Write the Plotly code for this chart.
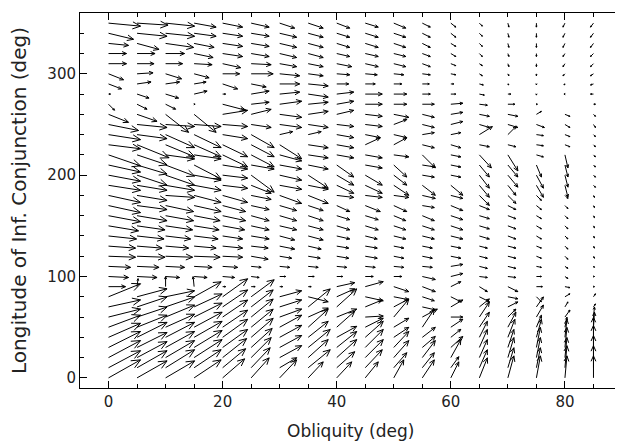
import math
import plotly.graph_objects as go

# Grid: obliquity columns and longitude rows (rows listed top -> bottom)
obliquity = [0, 5, 10, 15, 20, 25, 30, 35, 40, 45, 50, 55, 60, 65, 70, 75, 80, 85]
longitude = [350, 340, 330, 320, 310, 300, 290, 280, 270, 260, 250, 240, 230, 220,
             210, 200, 190, 180, 170, 160, 150, 140, 130, 120, 110, 100, 90, 80,
             70, 60, 50, 40, 30, 20, 10, 0]

# Vector components (arbitrary units), one row per longitude
U = [
 [32, 31, 29, 22, 20, 18, 15, 15, 13, 13, 12, 8, 5, 3, 1, 0, -2, -3],
 [25, 30, 29, 22, 20, 18, 17, 15, 13, 13, 12, 8, 5, 3, 1, 0, -2, -3],
 [20, 22, 28, 20, 20, 18, 17, 15, 13, 13, 12, 8, 5, 3, 1, 0, -2, -3],
 [18, 18, 19, 19, 20, 18, 17, 15, 13, 13, 12, 8, 5, 3, 1, 0, -2, -3],
 [18, 17, 17, 18, 18, 20, 17, 15, 15, 13, 12, 8, 5, 3, 1, 0, -2, -3],
 [15, 16, 16, 15, 17, 22, 20, 15, 13, 12, 10, 8, 5, 3, 1, 0, -2, -3],
 [13, 14, 14, 12, 15, 15, 20, 20, 12, 10, 8, 7, 3, 4, 1, 0, -1, -3],
 [2, 12, 13, 13, 3, 18, 20, 20, 17, 17, 13, 8, 5, 5, 3, 0, -1, -3],
 [6, 10, 10, 1, 23, 18, 22, 20, 17, 17, 13, 12, 12, 8, 7, 1, 0, 2],
 [20, 20, 23, 22, 25, 20, 22, 20, 17, 17, 15, 12, 12, 10, 10, 5, 5, 2],
 [30, 30, 29, 27, 25, 20, 22, 20, 17, 17, 13, 12, 12, 10, 10, 8, 5, 2],
 [32, 30, 29, 27, 25, 23, 13, 13, 17, 15, 13, 12, 10, 13, 8, 7, 5, 2],
 [32, 32, 29, 27, 25, 23, 22, 20, 17, 15, 13, 12, 10, 10, 8, 7, 5, 2],
 [32, 30, 29, 27, 25, 23, 22, 20, 17, 17, 15, 13, 10, 12, 10, 7, 3, 2],
 [32, 30, 29, 27, 25, 23, 22, 20, 17, 17, 13, 13, 10, 10, 10, 5, 3, 2],
 [32, 30, 29, 27, 25, 23, 22, 20, 17, 17, 13, 12, 10, 10, 10, 7, 3, 2],
 [32, 30, 29, 27, 25, 20, 22, 20, 17, 17, 15, 13, 12, 10, 8, 7, 3, 2],
 [32, 30, 29, 27, 25, 20, 22, 20, 17, 17, 15, 13, 12, 10, 8, 5, 3, 1],
 [32, 30, 28, 27, 23, 18, 17, 15, 13, 15, 13, 12, 12, 10, 8, 5, 3, 1],
 [32, 30, 28, 26, 23, 18, 17, 15, 13, 13, 12, 12, 12, 10, 8, 5, 3, 1],
 [30, 28, 27, 25, 22, 18, 17, 15, 13, 13, 12, 12, 12, 10, 8, 5, 3, 1],
 [28, 27, 25, 24, 20, 18, 15, 15, 13, 12, 12, 12, 12, 10, 8, 5, 3, 1],
 [27, 25, 23, 22, 20, 17, 15, 13, 12, 12, 10, 10, 10, 8, 8, 5, 3, 1],
 [27, 28, 27, 26, 20, 17, 12, 12, 12, 12, 10, 10, 10, 8, 8, 5, 3, 1],
 [22, 22, 19, 18, 15, 10, 10, 10, 10, 10, 10, 10, 12, 8, 8, 5, 3, 1],
 [20, 20, 14, 13, 12, 8, 6, 6, 6, 8, 8, 13, 12, 8, 8, 5, 3, 1],
 [17, 1, 0, -1, 3, 4, 3, 3, 18, 18, 15, 13, 10, 8, 10, 6, 5, 1],
 [32, 30, 29, 27, 25, 23, 22, 20, 18, 18, 15, 12, 10, 10, 10, 5, 5, 2],
 [32, 30, 29, 28, 25, 22, 22, 22, 20, 17, 15, 13, 12, 10, 10, 7, 3, 2],
 [32, 30, 29, 28, 25, 22, 22, 20, 20, 18, 15, 15, 12, 10, 8, 7, 5, 1],
 [32, 30, 29, 28, 25, 22, 22, 20, 18, 18, 15, 12, 12, 10, 8, 5, 2, 1],
 [32, 30, 29, 28, 25, 22, 22, 20, 20, 18, 15, 13, 10, 8, 7, 5, 2, 0],
 [32, 30, 29, 28, 25, 21, 22, 22, 20, 18, 15, 13, 12, 8, 6, 4, 2, 0],
 [32, 30, 29, 28, 24, 20, 22, 20, 20, 18, 15, 13, 10, 8, 6, 4, 2, 0],
 [32, 30, 29, 27, 23, 19, 17, 22, 18, 17, 13, 12, 8, 8, 6, 4, 2, 0],
 [32, 30, 29, 27, 22, 18, 17, 15, 15, 13, 10, 12, 8, 8, 6, 4, 2, 0],
]
V = [
 [-3, -2, -3, -4, -4, -4, -5, -5, -5, -4, -5, -4, -4, -3, -4, -4, -4, -4],
 [-6, -3, -3, -3, -3, -3, -4, -4, -4, -4, -4, -4, -4, -3, -4, -4, -4, -4],
 [-2, -6, -4, -4, -3, -3, -4, -4, -4, -4, -4, -4, -3, -3, -4, -4, -4, -4],
 [0, 0, 0, -4, -3, -3, -4, -4, -3, -3, -3, -3, -3, -3, -3, -3, -3, -3],
 [0, 0, 0, -1, -4, -1, -3, -3, -3, -3, -3, -3, -2, -2, -3, -3, -3, -3],
 [-6, 1, -5, -4, 0, 0, -2, -2, -1, -1, -1, -1, -1, -2, -2, -2, -2, -2],
 [-5, 2, 2, 2, -5, -3, 0, -2, 0, 0, 0, 0, 0, -1, -1, -1, -1, -1],
 [0, -4, -4, 3, 0, 3, 2, -3, 2, 0, 0, 0, 0, -1, 0, -1, 0, 0],
 [-6, -5, -5, 0, -6, 2, 3, 2, 3, 0, 0, 0, 1, -1, 0, 0, 0, 0],
 [-8, -7, -18, -18, 4, 5, -3, 3, 4, -2, -3, -3, 2, -2, -2, 3, -2, -2],
 [-6, -3, -2, -2, -2, -3, -3, -3, -2, -2, 5, -3, 3, -3, -3, -3, -3, -3],
 [-5, -4, -13, -13, -4, -13, 3, 3, -3, -3, -3, 2, 2, 8, 8, -1, -2, -2],
 [-4, -13, -12, -12, -12, -12, -14, -3, -3, 7, 7, -3, -3, -2, -2, -1, -2, -2],
 [-11, -10, -4, -4, -12, -12, -6, -3, -3, -3, -2, -13, -2, -13, -16, -2, -13, -2],
 [-7, -9, -11, -14, -4, -4, -4, -4, -12, -3, -12, -2, -2, -12, -12, -12, -12, -2],
 [-6, -10, -10, -5, -3, -17, -5, -13, -10, -10, -10, -2, -2, -13, -12, -13, -12, -2],
 [-5, -5, -5, -5, -3, -8, -4, -4, -8, -8, -10, -10, -10, -12, -10, -12, -12, -2],
 [-7, -5, -2, -7, -7, -4, -8, -8, -2, -2, -2, -3, -3, -10, -8, -5, -3, -2],
 [-7, -4, -6, -6, -6, -4, -5, -5, -6, -6, -6, -2, -5, -4, -4, -4, -3, -2],
 [-6, -5, -5, -5, -5, -5, -5, -5, -4, -4, -5, -5, -4, -3, -3, -3, -3, -2],
 [-5, -4, -4, -4, -4, -4, -4, -4, -4, -4, -4, -4, -4, -3, -3, -3, -3, -2],
 [-3, -3, -3, -3, -3, -3, -4, -4, -3, -3, -3, -3, -3, -3, -3, -3, -3, -2],
 [-2, -2, -2, -2, -2, -2, -3, -3, -2, -2, -2, -2, -2, -2, -2, -2, -3, -2],
 [-1, -1, -1, -1, -1, -3, -2, -2, -2, -2, -2, -2, -2, -2, -2, -2, -3, -2],
 [-1, -1, -1, -1, -1, -1, -1, -1, -1, -1, -1, -1, 2, -2, -2, -1, -2, -1],
 [-1, -1, -1, -1, -1, -1, 0, 0, 0, 0, 0, -3, 3, -1, -1, 0, -2, 0],
 [0, 8, 10, 10, 0, 0, 0, 0, 4, 5, -5, -5, 5, -5, -5, 0, -1, 0],
 [13, 8, 6, 15, 18, 17, 6, -5, 8, -4, -3, -4, -5, -5, -2, -5, 3, 3],
 [7, 10, 10, 13, 17, 17, 7, 18, 18, 7, 8, -3, 7, 8, 5, 10, 5, 3],
 [8, 10, 12, 14, 17, 18, 8, 9, 8, 1, 18, 8, 0, 15, 8, 12, 7, 10],
 [12, 12, 13, 15, 17, 18, 12, 18, 16, 9, 9, 18, 8, 15, 15, 12, 10, 15],
 [14, 15, 15, 16, 18, 19, 12, 16, 11, 16, 10, 10, 8, 16, 18, 18, 18, 20],
 [16, 15, 16, 17, 18, 19, 12, 18, 16, 18, 16, 11, 11, 18, 18, 20, 20, 22],
 [17, 16, 17, 18, 19, 20, 12, 18, 18, 18, 17, 17, 18, 18, 20, 20, 20, 22],
 [17, 17, 18, 18, 19, 20, 10, 18, 16, 18, 15, 15, 11, 18, 20, 20, 22, 22],
 [18, 17, 17, 18, 19, 20, 18, 16, 16, 16, 18, 18, 16, 20, 22, 22, 22, 22],
]

# The page body has an 8 px margin, so the figure is sized/offset to compensate
OFF = 8
W, H = 623 - OFF, 446 - OFF
ML, MR, MT, MB = 80 - OFF, 1, 13 - OFF, 446 - 388
XR = [-5, 90]
YR = [-10, 360]
plot_w, plot_h = W - ML - MR, H - MT - MB
kx = plot_w / (XR[1] - XR[0])   # px per deg obliquity
ky = plot_h / (YR[1] - YR[0])   # px per deg longitude
su, sv = 1.0 / kx, 1.0 / ky     # vector unit scaling

xs, ys = [], []
head_frac, head_ang = 0.27, math.radians(24)
for i, lon in enumerate(longitude):
    for j, obl in enumerate(obliquity):
        u, v = U[i][j], V[i][j]
        L = math.hypot(u, v)
        if L == 0:
            continue
        x0, y0 = obl, lon
        x1, y1 = obl + u * su, lon + v * sv
        xs += [x0, x1, None]
        ys += [y0, y1, None]
        h = max(head_frac * L, 1.5)
        bx, by = -u / L, -v / L
        pts = []
        for s in (1, -1):
            c, sn = math.cos(s * head_ang), math.sin(s * head_ang)
            rx, ry = bx * c - by * sn, bx * sn + by * c
            pts.append((x1 + rx * h / kx, y1 + ry * h / ky))
        xs += [pts[0][0], x1, pts[1][0], None]
        ys += [pts[0][1], y1, pts[1][1], None]

fig = go.Figure(go.Scatter(x=xs, y=ys, mode="lines",
                           line=dict(color="black", width=1), hoverinfo="skip"))

font = dict(family="DejaVu Sans", size=15, color="#222")
axis_common = dict(showgrid=False, zeroline=False, showline=True, linecolor="black",
                   linewidth=1, mirror="allticks", ticks="inside", ticklen=7,
                   tickcolor="black", tickfont=font, automargin=False)
fig.update_layout(
    width=W, height=H, margin=dict(l=ML, r=MR, t=MT, b=MB),
    plot_bgcolor="white", paper_bgcolor="white", showlegend=False,
    xaxis=dict(range=XR, tickvals=[0, 20, 40, 60, 80],
               minor=dict(ticks="inside", ticklen=4, dtick=5, tickcolor="black"),
               **axis_common),
    yaxis=dict(range=YR, tickvals=[0, 100, 200, 300],
               minor=dict(ticks="inside", ticklen=4, dtick=20, tickcolor="black"),
               **axis_common),
)
# titles placed at page pixel positions (converted to paper coords)
bottom_px = 388
fig.add_annotation(text="Obliquity (deg)", xref="paper", yref="paper",
                   x=(350 - 80) / plot_w, y=-(431 - bottom_px) / plot_h,
                   xanchor="center", yanchor="middle", showarrow=False,
                   font=dict(family="DejaVu Sans", size=17, color="#222"))
fig.add_annotation(text="Longitude of Inf. Conjunction (deg)", xref="paper", yref="paper",
                   x=-(80 - 19) / plot_w, y=(bottom_px - 201) / plot_h, textangle=-90,
                   xanchor="center", yanchor="middle", showarrow=False,
                   font=dict(family="DejaVu Sans", size=20, color="#222"))
fig.write_html("out.html")
